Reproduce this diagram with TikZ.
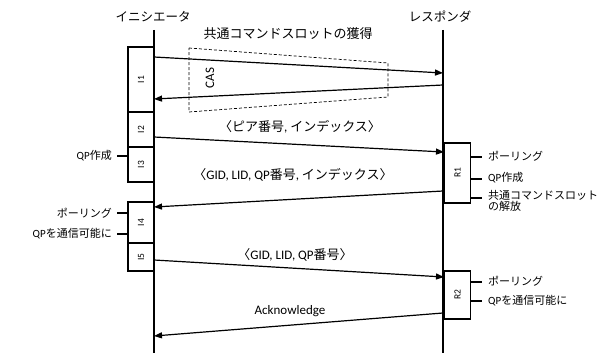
\documentclass[tikz,border=0pt]{standalone}
\usepackage{fontspec}
\setmainfont{Carlito}
\newfontfamily\jp{Noto Sans CJK JP}
\usetikzlibrary{arrows.meta}
\begin{document}
\begin{tikzpicture}[x=1pt,y=-1pt,
  life/.style={line width=1.3pt},
  msg/.style={line width=1.2pt,-{Triangle[length=8pt,width=6pt]}},
  box/.style={draw,line width=1.2pt,fill=white,rotate=90,minimum height=26pt,inner sep=0pt,font=\fontsize{9.5}{10}\selectfont},
  head/.style={font=\jp\fontsize{12.5}{14}\selectfont,inner sep=0pt},
  mlab/.style={font=\fontsize{13}{15}\selectfont,inner sep=0pt},
  ann/.style={font=\fontsize{11}{13}\selectfont,inner sep=0pt},
  tick/.style={line width=1.1pt}]
\useasboundingbox (0,0) rectangle (611,353);
% headers
\node[head] (ini) at (153,17) {イニシエータ};
\node[head] (res) at (440,17) {レスポンダ};
% lifelines
\coordinate (iT) at (154,30); \coordinate (iB) at (154,353);
\coordinate (rT) at (443,30); \coordinate (rB) at (443,353);
\draw[life] (iT) -- (iB);
\draw[life] (rT) -- (rB);
% dashed CAS region
\draw[dashed,dash pattern=on 3pt off 2pt,line width=0.7pt] (189,48) -- (388,63) -- (388,97) -- (189,112) -- cycle;
\node[mlab,rotate=90] (cas) at (210,78) {CAS};
% boxes
\node[box,minimum width=65pt] (I1) at (141,79.5) {I1};
\node[box,minimum width=35pt] (I2) at (141,129.5) {I2};
\node[box,minimum width=35pt] (I3) at (141,164.5) {I3};
\node[box,minimum width=41pt] (I4) at (141,222.5) {I4};
\node[box,minimum width=28pt] (I5) at (141,257) {I5};
\node[box,minimum width=60pt] (R1) at (457.5,173) {R1};
\node[box,minimum width=48pt] (R2) at (457.5,295) {R2};
% message endpoints
\coordinate (a1) at (154,57); \coordinate (b1) at (443,73);
\coordinate (a2) at (443,85); \coordinate (b2) at (154,99);
\coordinate (a3) at (154,137); \coordinate (b3) at (444,152);
\coordinate (a4) at (443,191); \coordinate (b4) at (154,207);
\coordinate (a5) at (154,260); \coordinate (b5) at (444,277);
\coordinate (a6) at (443,313); \coordinate (b6) at (154,336);
\draw[msg] (a1) -- (b1);
\draw[msg] (a2) -- (b2);
\draw[msg] (a3) -- (b3);
\draw[msg] (a4) -- (b4);
\draw[msg] (a5) -- (b5);
\draw[msg] (a6) -- (b6);
% message labels
\node[mlab] (l1) at (288,34) {\jp 共通コマンドスロットの獲得};
\node[mlab] (l3) at (300,127) {{\jp 〈ピア番号}, {\jp インデックス〉}};
\node[mlab] (l4) at (293,175) {{\jp 〈}GID, LID, QP{\jp 番号}, {\jp インデックス〉}};
\node[mlab] (l5) at (295,255) {{\jp 〈}GID, LID, QP{\jp 番号〉}};
\node[mlab] (l6) at (290,311) {Acknowledge};
% left annotations
\coordinate (tA) at (128,156); \coordinate (tA2) at (117,156);
\draw[tick] (tA) -- (tA2);
\node[ann,anchor=east] (nA) at (112,156) {QP{\jp 作成}};
\coordinate (tB) at (128,213); \coordinate (tB2) at (117,213);
\draw[tick] (tB) -- (tB2);
\node[ann,anchor=east] (nB) at (112,213) {\jp ポーリング};
\coordinate (tC) at (128,234); \coordinate (tC2) at (117,234);
\draw[tick] (tC) -- (tC2);
\node[ann,anchor=east] (nC) at (112,234) {QP{\jp を通信可能に}};
% right annotations R1
\coordinate (tD) at (471,157); \coordinate (tD2) at (482,157);
\draw[tick] (tD) -- (tD2);
\node[ann,anchor=west] (nD) at (488,156) {\jp ポーリング};
\coordinate (tE) at (471,179); \coordinate (tE2) at (482,179);
\draw[tick] (tE) -- (tE2);
\node[ann,anchor=west] (nE) at (488,178) {QP{\jp 作成}};
\coordinate (tF) at (471,198); \coordinate (tF2) at (482,198);
\draw[tick] (tF) -- (tF2);
\node[ann,anchor=north west,align=left] (nF) at (488,190) {\jp 共通コマンドスロット\\[-2pt]\jp の解放};
% right annotations R2
\coordinate (tG) at (471,282); \coordinate (tG2) at (482,282);
\draw[tick] (tG) -- (tG2);
\node[ann,anchor=west] (nG) at (488,281) {\jp ポーリング};
\coordinate (tH) at (471,301); \coordinate (tH2) at (482,301);
\draw[tick] (tH) -- (tH2);
\node[ann,anchor=west] (nH) at (488,301) {QP{\jp を通信可能に}};
\end{tikzpicture}
\end{document}
